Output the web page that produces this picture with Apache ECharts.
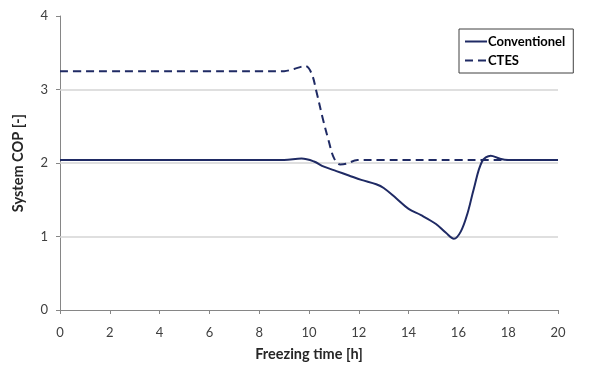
<!DOCTYPE html>
<html>
<head>
<meta charset="utf-8">
<script src="https://cdn.jsdelivr.net/npm/echarts@6/dist/echarts.min.js"></script>
<style>
  html, body { margin: 0; padding: 0; background: #fff; }
  #chart { width: 594px; height: 367px; }
</style>
</head>
<body>
<div id="chart"></div>
<script>
// Freezing time [h] and system COP for each operating mode
const convTime = [0, 1, 2, 3, 4, 5, 6, 7, 8, 9, 9.7, 10.2, 10.6, 11.1, 11.6, 12.1, 12.7, 13.0, 13.5, 14.0, 14.5, 15.1, 15.5, 15.82, 16.1, 16.37, 16.62, 16.95, 17.3, 17.65, 18, 19, 20];
const convCop  = [2.04, 2.04, 2.04, 2.04, 2.04, 2.04, 2.04, 2.04, 2.04, 2.04, 2.06, 2.02, 1.95, 1.89, 1.83, 1.77, 1.71, 1.66, 1.52, 1.375, 1.29, 1.17, 1.05, 0.97, 1.07, 1.32, 1.65, 2.02, 2.10, 2.06, 2.04, 2.04, 2.04];

const ctesTime = [0, 1, 2, 3, 4, 5, 6, 7, 8, 9, 9.4, 9.85, 10.1, 10.3, 10.55, 10.8, 11.0, 11.25, 11.5, 11.95, 13, 14, 15, 16, 17, 18, 19, 20];
const ctesCop  = [3.25, 3.25, 3.25, 3.25, 3.25, 3.25, 3.25, 3.25, 3.25, 3.25, 3.28, 3.32, 3.22, 2.97, 2.61, 2.29, 2.07, 1.98, 1.99, 2.04, 2.04, 2.04, 2.04, 2.04, 2.04, 2.04, 2.04, 2.04];

const seriesNames = ['Conventionel', 'CTES'];
const gridValues = [1, 2, 3];

const pairs = (xs, ys) => xs.map((x, i) => [x, ys[i]]);

const navy = '#1F2A64';
const font = 'Lato, "Open Sans", sans-serif';

const chart = echarts.init(document.getElementById('chart'), null, { renderer: 'canvas' });
chart.setOption({
  animation: false,
  backgroundColor: '#ffffff',
  grid: { left: 60, right: 36, top: 16, bottom: 55 },
  legend: {
    orient: 'vertical',
    left: 459,
    top: 29,
    padding: [6, 8, 6, 5],
    itemGap: 6,
    itemWidth: 22,
    itemHeight: 12,
    borderColor: '#404040',
    borderWidth: 1,
    backgroundColor: '#fff',
    itemStyle: { opacity: 0 },
    textStyle: { fontFamily: font, fontWeight: 'bold', fontSize: 13, color: '#000', padding: [0, 0, 0, -4] },
    data: seriesNames
  },
  xAxis: {
    type: 'value',
    min: 0, max: 20, interval: 2,
    name: 'Freezing time [h]',
    nameLocation: 'middle',
    nameGap: 37,
    nameTextStyle: { fontFamily: font, fontWeight: 'bold', fontSize: 14.5, color: '#262626' },
    axisLine: { show: true, lineStyle: { color: '#868686', width: 1 } },
    axisTick: { show: true, length: 4, lineStyle: { color: '#868686' } },
    axisLabel: { fontFamily: font, fontSize: 13, color: '#404040', margin: 16 },
    splitLine: { show: false }
  },
  yAxis: {
    type: 'value',
    min: 0, max: 4, interval: 1,
    name: 'System COP [-]',
    nameLocation: 'middle',
    nameGap: 34,
    nameRotate: 90,
    nameTextStyle: { fontFamily: font, fontWeight: 'bold', fontSize: 14.5, color: '#262626' },
    axisLine: { show: true, lineStyle: { color: '#868686', width: 1 } },
    axisTick: { show: true, length: 4, lineStyle: { color: '#868686' } },
    axisLabel: { fontFamily: font, fontSize: 13, color: '#404040', margin: 12 },
    splitLine: { show: false }
  },
  series: [
    {
      name: seriesNames[0],
      type: 'line',
      data: pairs(convTime, convCop),
      symbol: 'none',
      smooth: 0.35,
      z: 3,
      lineStyle: { color: navy, width: 2 },
      itemStyle: { color: navy },
      markLine: {
        silent: true,
        symbol: 'none',
        label: { show: false },
        z: 1,
        lineStyle: { color: '#D4D4D4', width: 1.5, type: 'solid' },
        data: gridValues.map(v => ({ yAxis: v }))
      }
    },
    {
      name: seriesNames[1],
      type: 'line',
      data: pairs(ctesTime, ctesCop),
      symbol: 'none',
      smooth: 0.35,
      z: 3,
      lineStyle: { color: navy, width: 2, type: [8, 5] },
      itemStyle: { color: navy }
    }
  ]
});
</script>
</body>
</html>
